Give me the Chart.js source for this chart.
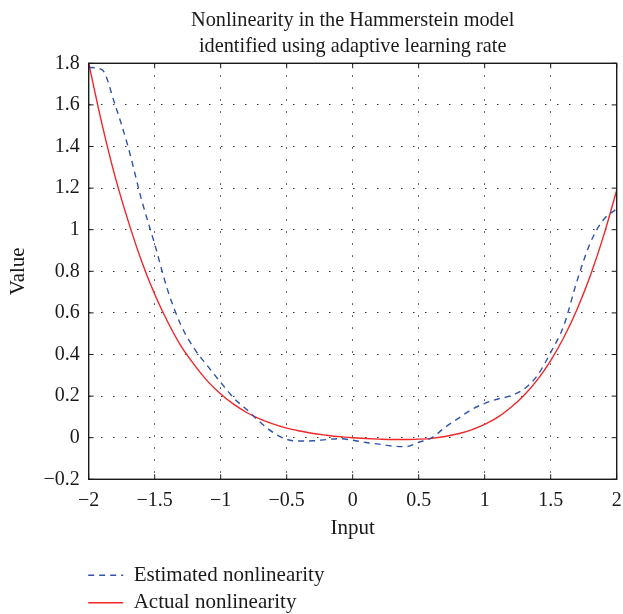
<!DOCTYPE html>
<html>
<head>
<meta charset="utf-8">
<script src="https://cdn.jsdelivr.net/npm/chart.js@4.4.0/dist/chart.umd.min.js"></script>
<style>
  html, body { margin: 0; padding: 0; background: #ffffff; }
  #c { display: block; }
</style>
</head>
<body>
<canvas id="c" width="623" height="614"></canvas>
<script>
// Input grid for both curves
const inputX = [
  -2.0, -1.9, -1.8, -1.7, -1.6, -1.5, -1.4, -1.3, -1.2, -1.1,
  -1.0, -0.9, -0.8, -0.7, -0.6, -0.5, -0.4, -0.3, -0.2, -0.1,
   0.0,  0.1,  0.2,  0.3,  0.4,  0.5,  0.6,  0.7,  0.8,  0.9,
   1.0,  1.1,  1.2,  1.3,  1.4,  1.5,  1.6,  1.7,  1.8,  1.9, 2.0
];

// Identified (estimated) static nonlinearity
const estimatedNonlinearity = [
  1.78, 1.77, 1.60, 1.395, 1.145, 0.93, 0.706, 0.54, 0.428, 0.345,
  0.266, 0.19, 0.134, 0.074, 0.024, -0.008, -0.016, -0.015, -0.009, -0.005,
  -0.012, -0.023, -0.031, -0.04, -0.043, -0.022, 0.0, 0.05, 0.093, 0.135,
  0.165, 0.186, 0.202, 0.235, 0.30, 0.41, 0.54, 0.755, 0.937, 1.048, 1.10
];

// True static nonlinearity
const actualNonlinearity = [
  1.80, 1.51, 1.255, 1.04, 0.85, 0.69, 0.555, 0.44, 0.35, 0.272,
  0.21, 0.16, 0.12, 0.089, 0.065, 0.046, 0.032, 0.02, 0.012, 0.005,
  0.0, -0.004, -0.007, -0.009, -0.009, -0.007, -0.003, 0.006, 0.019, 0.038,
  0.064, 0.099, 0.146, 0.205, 0.279, 0.371, 0.483, 0.618, 0.779, 0.969, 1.19
];

const xTickValues = [-2, -1.5, -1, -0.5, 0, 0.5, 1, 1.5, 2];
const yTickValues = [-0.2, 0, 0.2, 0.4, 0.6, 0.8, 1, 1.2, 1.4, 1.6, 1.8];

const titleLines = ['Nonlinearity in the Hammerstein model', 'identified using adaptive learning rate'];

const SERIF = '"Liberation Serif", "Times New Roman", serif';

const fmt = v => (v < 0 ? '\u2212' : '') + String(Math.abs(v));

const toPoints = ys => inputX.map((x, i) => ({ x: x, y: ys[i] }));

// Frame around the plot area with short inward tick marks on all sides
const framePlugin = {
  id: 'frame',
  afterDatasetsDraw(chart) {
    const { ctx, chartArea: a, scales } = chart;
    ctx.save();
    ctx.strokeStyle = '#1a1a1a';
    ctx.lineWidth = 1.4;
    ctx.strokeRect(a.left, a.top, a.right - a.left, a.bottom - a.top);
    ctx.lineWidth = 1;
    const t = 5;
    ctx.beginPath();
    xTickValues.forEach(v => {
      const px = scales.x.getPixelForValue(v);
      ctx.moveTo(px, a.bottom); ctx.lineTo(px, a.bottom - t);
      ctx.moveTo(px, a.top); ctx.lineTo(px, a.top + t);
    });
    yTickValues.forEach(v => {
      const py = scales.y.getPixelForValue(v);
      ctx.moveTo(a.left, py); ctx.lineTo(a.left + t, py);
      ctx.moveTo(a.right, py); ctx.lineTo(a.right - t, py);
    });
    ctx.stroke();
    ctx.restore();
  }
};

// Stacked legend under the x-axis title
const stackedLegend = {
  id: 'stackedLegend',
  afterDraw(chart) {
    const { ctx, chartArea: a } = chart;
    const rows = [a.bottom + 96, a.bottom + 123.5];
    ctx.save();
    chart.data.datasets.forEach((ds, i) => {
      const y = rows[i];
      ctx.beginPath();
      ctx.strokeStyle = ds.borderColor;
      ctx.lineWidth = ds.borderWidth;
      ctx.setLineDash(ds.borderDash || []);
      ctx.moveTo(a.left - 0.5, y);
      ctx.lineTo(a.left + 34.5, y);
      ctx.stroke();
      ctx.setLineDash([]);
      ctx.fillStyle = '#1a1a1a';
      ctx.font = '21px ' + SERIF;
      ctx.textBaseline = 'middle';
      ctx.textAlign = 'left';
      ctx.fillText(ds.label, a.left + 45, y);
    });
    ctx.restore();
  }
};

new Chart(document.getElementById('c'), {
  type: 'line',
  data: {
    datasets: [
      {
        label: 'Estimated nonlinearity',
        data: toPoints(estimatedNonlinearity),
        borderColor: '#2f52ad',
        borderWidth: 1.4,
        borderDash: [6, 5],
        pointRadius: 0,
        cubicInterpolationMode: 'monotone',
        fill: false
      },
      {
        label: 'Actual nonlinearity',
        data: toPoints(actualNonlinearity),
        borderColor: '#f0262a',
        borderWidth: 1.4,
        pointRadius: 0,
        cubicInterpolationMode: 'monotone',
        fill: false
      }
    ]
  },
  options: {
    responsive: false,
    animation: false,
    devicePixelRatio: 1,
    layout: { padding: { top: 0, left: 0, right: 6.3, bottom: 64.7 } },
    plugins: {
      legend: { display: false },
      tooltip: { enabled: false },
      title: {
        display: true,
        fullSize: false,
        text: titleLines,
        color: '#1a1a1a',
        font: { family: SERIF, size: 20.3, weight: 'normal', lineHeight: '26px' },
        padding: { top: 8, bottom: 3.3 }
      }
    },
    scales: {
      x: {
        type: 'linear',
        min: -2,
        max: 2,
        afterBuildTicks: s => { s.ticks = xTickValues.map(v => ({ value: v })); },
        afterFit: s => { s.height = 70; s.paddingLeft = 0; s.paddingRight = 0; },
        ticks: {
          callback: v => fmt(v),
          color: '#1a1a1a',
          font: { family: SERIF, size: 20 },
          padding: 9,
          maxRotation: 0,
          autoSkip: false
        },
        grid: { color: '#333', lineWidth: 1, drawTicks: false },
        border: { display: false, dash: [1.5, 10.5] },
        title: {
          display: true,
          text: 'Input',
          color: '#1a1a1a',
          font: { family: SERIF, size: 21 },
          padding: { top: 0, bottom: 8 }
        }
      },
      y: {
        type: 'linear',
        min: -0.2,
        max: 1.8,
        afterBuildTicks: s => { s.ticks = yTickValues.map(v => ({ value: v })); },
        afterFit: s => { s.width = 88.7; s.paddingTop = 0; s.paddingBottom = 0; },
        ticks: {
          callback: v => fmt(v),
          color: '#1a1a1a',
          font: { family: SERIF, size: 20 },
          padding: 9,
          autoSkip: false
        },
        grid: { color: '#333', lineWidth: 1, drawTicks: false },
        border: { display: false, dash: [1.5, 10.5] },
        title: {
          display: true,
          text: 'Value',
          color: '#1a1a1a',
          font: { family: SERIF, size: 21 },
          padding: { top: 6, bottom: 0 }
        }
      }
    }
  },
  plugins: [framePlugin, stackedLegend]
});
</script>
</body>
</html>
